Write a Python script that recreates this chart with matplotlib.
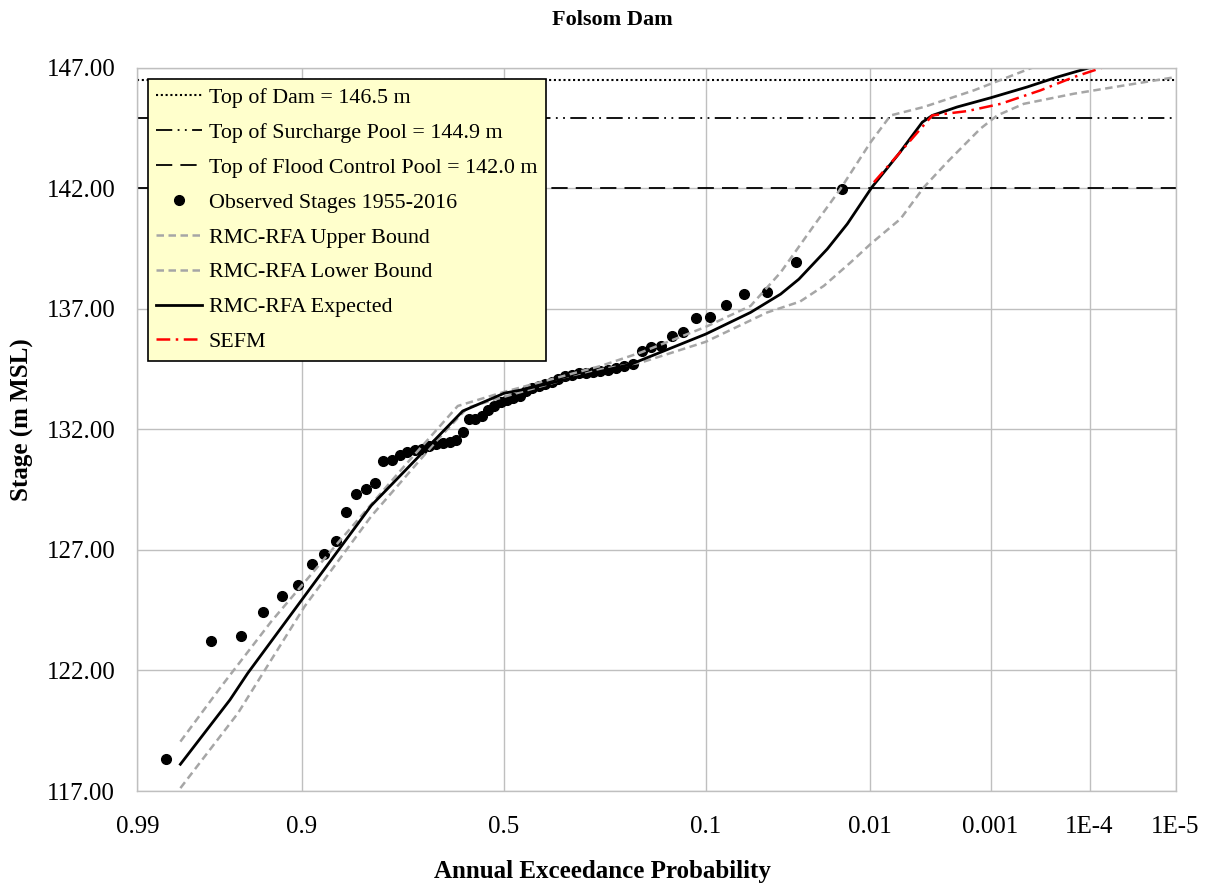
from statistics import NormalDist

import matplotlib
matplotlib.use("Agg")
import matplotlib.pyplot as plt
import numpy as np
from matplotlib.ticker import FixedLocator, FixedFormatter, NullLocator

plt.rcParams['font.family'] = ['Liberation Serif', 'DejaVu Serif']

# observed stages, rank 1 = largest, plotted at the read exceedance probability
obs_aep = [0.0159, 0.0317, 0.0476, 0.0635, 0.0794, 0.0952, 0.1111, 0.1270, 0.1429, 0.1587,
           0.1746, 0.1905, 0.2063, 0.2222, 0.2381, 0.2540, 0.2698, 0.2857, 0.3016, 0.3175,
           0.3333, 0.3492, 0.3651, 0.3810, 0.3968, 0.4127, 0.4286, 0.4444, 0.4603, 0.4762,
           0.4921, 0.5079, 0.5238, 0.5397, 0.5556, 0.5714, 0.5873, 0.6032, 0.6190, 0.6349,
           0.6508, 0.6667, 0.6825, 0.6984, 0.7143, 0.7302, 0.7460, 0.7619, 0.7778, 0.7937,
           0.8095, 0.8254, 0.8413, 0.8571, 0.8730, 0.8889, 0.9048, 0.9206, 0.9365, 0.9524,
           0.9683, 0.9841]
obs_stage = [141.95, 138.95, 137.71, 137.60, 137.17, 136.67, 136.61, 136.02, 135.88, 135.46,
             135.40, 135.25, 134.69, 134.61, 134.54, 134.47, 134.42, 134.37, 134.35, 134.32,
             134.27, 134.20, 134.08, 133.98, 133.88, 133.80, 133.72, 133.58, 133.38, 133.28,
             133.20, 133.14, 132.97, 132.79, 132.55, 132.42, 132.42, 131.89, 131.56, 131.47,
             131.45, 131.38, 131.30, 131.17, 131.13, 131.05, 130.93, 130.71, 130.68, 129.77,
             129.52, 129.30, 128.57, 127.39, 126.85, 126.42, 125.53, 125.09, 124.44, 123.41,
             123.21, 118.33]

# RMC-RFA expected curve
exp_aep = [0.98, 0.959, 0.948, 0.80, 0.603, 0.499, 0.457, 0.210, 0.100, 0.0586, 0.0394,
           0.0305, 0.0200, 0.0146, 0.0097, 0.00607, 0.00394, 0.00326, 0.0020, 0.0010,
           0.000445, 0.000221, 0.0001]
exp_stage = [118.11, 120.78, 121.89, 128.84, 132.76, 133.50, 133.63, 134.70, 135.95, 136.85,
             137.61, 138.23, 139.48, 140.52, 142.05, 143.43, 144.74, 145.02, 145.37, 145.75,
             146.20, 146.61, 147.0]

# RMC-RFA upper bound
up_aep = [0.98, 0.9636, 0.930, 0.854, 0.736, 0.615, 0.50, 0.269, 0.192, 0.100, 0.0586,
          0.0394, 0.0245, 0.0163, 0.00993, 0.00703, 0.00383, 0.00142, 0.000397]
up_stage = [119.05, 121.34, 124.04, 127.29, 130.48, 132.97, 133.55, 134.63, 135.19, 136.25,
            137.12, 138.51, 140.45, 141.97, 143.91, 145.02, 145.37, 146.06, 147.0]

# RMC-RFA lower bound
lo_aep = [0.98, 0.9543, 0.897, 0.80, 0.662, 0.591, 0.491, 0.269, 0.192, 0.100, 0.0472,
          0.0300, 0.0211, 0.0138, 0.00993, 0.00589, 0.00383, 0.00244, 0.00124, 0.000866,
          0.000482, 0.000148, 0.0000415, 0.00001]
lo_stage = [117.12, 120.23, 124.66, 128.40, 131.59, 132.90, 133.39, 134.49, 134.77, 135.63,
            136.85, 137.30, 137.95, 138.93, 139.69, 140.73, 142.04, 143.08, 144.47, 145.02,
            145.50, 145.92, 146.26, 146.61]

# SEFM
sefm_aep = [0.00939, 0.00607, 0.00326, 0.00163, 0.000805, 0.000328, 0.000148, 0.0000727]
sefm_stage = [142.25, 143.43, 145.02, 145.20, 145.50, 146.06, 146.61, 147.0]

top_dam = 146.5
top_surcharge = 144.9
top_flood = 142.0

x_ticks = [0.99, 0.9, 0.5, 0.1, 0.01, 0.001, 0.0001, 0.00001]
x_labels = ['0.99', '0.9', '0.5', '0.1', '0.01', '0.001', '1E-4', '1E-5']
y_ticks = [117, 122, 127, 132, 137, 142, 147]

nd = NormalDist()


def aep_to_z(p):
    # normal probability paper: exceedance prob -> standard normal deviate
    p = np.clip(np.asarray(p, dtype=float), 1e-12, 1 - 1e-12)
    return np.array([nd.inv_cdf(1 - v) for v in p.ravel()]).reshape(p.shape)


def z_to_aep(z):
    z = np.asarray(z, dtype=float)
    return np.array([1 - nd.cdf(v) for v in z.ravel()]).reshape(z.shape)


fig = plt.figure(figsize=(12.24, 8.86), dpi=100)
ax = fig.add_axes([0.1123, 0.1072, 0.8481, 0.8164])
ax.set_xscale('function', functions=(aep_to_z, z_to_aep))

grid_c = '#BFBFBF'

l_dam = ax.axhline(top_dam, color='black', lw=1.5, dashes=(1, 1.3), label='Top of Dam = 146.5 m')
l_sur = ax.axhline(top_surcharge, color='black', lw=1.3, dashes=(9, 3, 1, 3, 1, 3),
                   label='Top of Surcharge Pool = 144.9 m')
l_fc = ax.axhline(top_flood, color='black', lw=1.3, dashes=(9, 4.5),
                  label='Top of Flood Control Pool = 142.0 m')
l_obs, = ax.plot(obs_aep, obs_stage, 'o', color='black', ms=7, ls='none',
                 label='Observed Stages 1955-2016')
l_up, = ax.plot(up_aep, up_stage, color='#A6A6A6', lw=1.8, dashes=(3, 1.8),
                label='RMC-RFA Upper Bound')
l_lo, = ax.plot(lo_aep, lo_stage, color='#A6A6A6', lw=1.8, dashes=(3, 1.8),
                label='RMC-RFA Lower Bound')
l_exp, = ax.plot(exp_aep, exp_stage, color='black', lw=2, label='RMC-RFA Expected')
l_sefm, = ax.plot(sefm_aep, sefm_stage, color='#FF0000', lw=1.8, dashes=(5.5, 2.2, 1, 2.2),
                  label='SEFM')

ax.set_xlim(0.00001, 0.99)
ax.set_ylim(117, 147)
ax.xaxis.set_major_locator(FixedLocator(x_ticks))
ax.xaxis.set_major_formatter(FixedFormatter(x_labels))
ax.xaxis.set_minor_locator(NullLocator())
ax.set_yticks(y_ticks)
ax.set_yticklabels([f'{v:.2f}' for v in y_ticks])

ax.grid(True, color=grid_c, lw=1)
ax.set_axisbelow(True)
for s in ax.spines.values():
    s.set_color(grid_c)
    s.set_linewidth(1)
ax.tick_params(axis='both', length=0, labelsize=18, colors='black')
ax.tick_params(axis='x', pad=18)
ax.tick_params(axis='y', pad=16)

fig.text(0.5, 1 - 20 / 886, 'Folsom Dam', fontsize=16, fontweight='bold', ha='center', va='center')
ax.set_xlabel('Annual Exceedance Probability', fontsize=18, fontweight='bold', labelpad=14)
ax.xaxis.set_label_coords((602 - 137.5) / 1038, -0.095)
ax.set_ylabel('Stage (m MSL)', fontsize=18, fontweight='bold', labelpad=9)
ax.yaxis.set_label_coords(-0.1, (791 - 420) / 722)

leg = ax.legend(handles=[l_dam, l_sur, l_fc, l_obs, l_up, l_lo, l_exp, l_sefm],
                loc='upper left', bbox_to_anchor=(147.5 / 1224, 1 - 79 / 886),
                bbox_transform=fig.transFigure, fontsize=15.8, frameon=True, fancybox=False,
                facecolor='#FFFFCC', edgecolor='black', framealpha=1, handlelength=2.1,
                handletextpad=0.3, labelspacing=0.66, borderpad=0.4, borderaxespad=0)
leg.get_frame().set_linewidth(1.2)

fig.savefig('out.png', dpi=100)
